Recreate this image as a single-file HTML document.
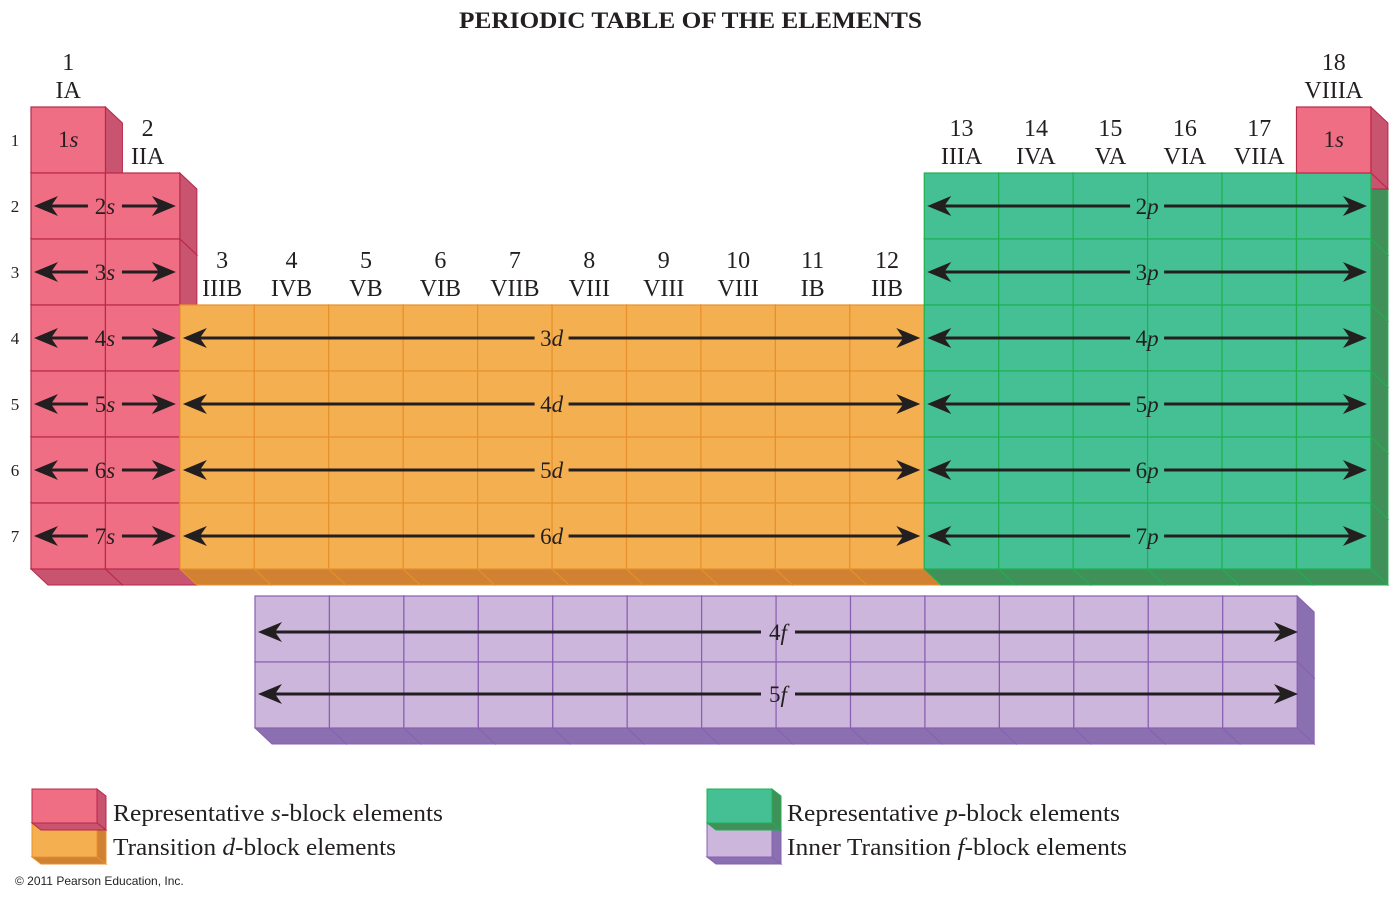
<!DOCTYPE html>
<html><head><meta charset="utf-8"><style>
body{margin:0;background:#fff;width:1400px;height:898px;overflow:hidden}
svg text{font-family:"Liberation Serif",serif;fill:#231f20}
</style></head><body>
<svg id="chart" width="1400" height="898" viewBox="0 0 1400 898" xmlns="http://www.w3.org/2000/svg">
<text x="459" y="28" textLength="463" lengthAdjust="spacingAndGlyphs" font-size="23" font-weight="bold">PERIODIC TABLE OF THE ELEMENTS</text>
<g id="sides"></g><g id="fronts"></g><g id="labels"></g>
<text x="15" y="885" font-size="12" style="font-family:'Liberation Sans',sans-serif">© 2011 Pearson Education, Inc.</text>
</svg>
<script>
const groupNums=["1","2","3","4","5","6","7","8","9","10","11","12","13","14","15","16","17","18"];
const groupRoman=["IA","IIA","IIIB","IVB","VB","VIB","VIIB","VIII","VIII","VIII","IB","IIB","IIIA","IVA","VA","VIA","VIIA","VIIIA"];
const groupLabelRow=[1,2,4,4,4,4,4,4,4,4,4,4,2,2,2,2,2,1];
const periods=[1,2,3,4,5,6,7];
// blocks: [block, colStart, colEnd, rowStart, rowEnd]
const blockCells=[["s",1,1,1,7],["s",2,2,2,7],["d",3,12,4,7],["p",13,18,2,7],["s",18,18,1,1]];
const arrowRows=[["s",2,"2"],["s",3,"3"],["s",4,"4"],["s",5,"5"],["s",6,"6"],["s",7,"7"],["d",4,"3"],["d",5,"4"],["d",6,"5"],["d",7,"6"],["p",2,"2"],["p",3,"3"],["p",4,"4"],["p",5,"5"],["p",6,"6"],["p",7,"7"]];
const fRows=["4","5"];
const C={s:{f:"#f06e84",sd:"#c85470",st:"#b8284a"},d:{f:"#f4b050",sd:"#d08232",st:"#e8902c"},p:{f:"#44c094",sd:"#3f9159",st:"#1fb050"},f:{f:"#cdb6dc",sd:"#8a70b0",st:"#8a5fb2"}};
const NS="http://www.w3.org/2000/svg";
const X0=31,CW=74.44,Y0=107,RH=66,DX=17,DY=16;
const colX=c=>X0+(c-1)*CW, rowY=r=>Y0+(r-1)*RH;
const sides=document.getElementById('sides'),fronts=document.getElementById('fronts'),labels=document.getElementById('labels');
function mk(tag,attrs,parent){const e=document.createElementNS(NS,tag);for(const k in attrs)e.setAttribute(k,attrs[k]);parent.appendChild(e);return e;}
function cell(x,y,w,h,c,name){
  let e=mk('polygon',{points:`${x+w},${y} ${x+w+DX},${y+DY} ${x+w+DX},${y+h+DY} ${x+w},${y+h}`,fill:c.sd,stroke:c.st,'stroke-width':1},sides);
  
  
  e=mk('polygon',{points:`${x},${y+h} ${x+w},${y+h} ${x+w+DX},${y+h+DY} ${x+DX},${y+h+DY}`,fill:c.sd,stroke:c.st,'stroke-width':1},sides);
  
  
  e=mk('rect',{x:x,y:y,width:w,height:h,fill:c.f,stroke:c.st,'stroke-width':1.2},fronts);
  
  
}
blockCells.forEach(b=>{for(let c=b[1];c<=b[2];c++)for(let r=b[3];r<=b[4];r++)cell(colX(c),rowY(r),CW,RH,C[b[0]],`${b[0]}-cell-g${c}-p${r}`);});
const FY=596;
fRows.forEach((n,i)=>{for(let k=0;k<14;k++)cell(255+k*CW,FY+i*RH,CW,RH,C.f,`f-cell-${n}f-${k+1}`);});
// group labels
groupNums.forEach((g,i)=>{const cx=colX(i+1)+CW/2+((i===1||i===2)?5:0),ty=rowY(groupLabelRow[i]);
  let t=mk('text',{x:cx,y:ty-37,'text-anchor':'middle','font-size':24},labels);t.textContent=g;
  
  t=mk('text',{x:cx,y:ty-9,'text-anchor':'middle','font-size':24},labels);t.textContent=groupRoman[i];
  });
periods.forEach(p=>{const t=mk('text',{x:15,y:rowY(p)+RH/2+6,'text-anchor':'middle','font-size':17},labels);t.textContent=p;
  });
function head(x,y,dir){const d=dir;return `M${x},${y} L${x-d*24},${y-10} L${x-d*17},${y} L${x-d*24},${y+10} Z`;}
function arrow(x1,x2,y,lbl,letter,name){
  const mid=(x1+x2)/2,gap=17;
  let e=mk('line',{x1:x1+15,y1:y,x2:mid-gap,y2:y,stroke:"#231f20",'stroke-width':3},labels);
  
  e=mk('line',{x1:mid+gap,y1:y,x2:x2-15,y2:y,stroke:"#231f20",'stroke-width':3},labels);
  
  e=mk('path',{d:head(x1,y,-1)+head(x2,y,1),fill:"#231f20"},labels);
  
  const t=mk('text',{x:mid,y:y+8,'text-anchor':'middle','font-size':23},labels);
  t.innerHTML=lbl+'<tspan font-style="italic">'+letter+'</tspan>';
  
}
const span={s:[1,2],d:[3,12],p:[13,18]};
arrowRows.forEach(a=>{const sp=span[a[0]];arrow(colX(sp[0])+3,colX(sp[1])+CW-4,rowY(a[1])+RH/2,a[2],a[0],`${a[2]}${a[0]}-orbital`);});
fRows.forEach((n,i)=>arrow(258,1298,FY+i*RH+(i?32:36),n,"f",`${n}f-orbital`));
// 1s labels
[[1,"1s-hydrogen"],[18,"1s-helium"]].forEach(([c,nm])=>{const t=mk('text',{x:colX(c)+CW/2,y:rowY(1)+RH/2+7,'text-anchor':'middle','font-size':23},labels);t.innerHTML='1<tspan font-style="italic">s</tspan>';
  });
// legend
function swatch(x,y,c,name){const w=65,h=34,dx=9,dy=7;
  let e=mk('polygon',{points:`${x+w},${y} ${x+w+dx},${y+dy} ${x+w+dx},${y+h+dy} ${x+w},${y+h}`,fill:c.sd,stroke:c.st},labels);
  
  e=mk('polygon',{points:`${x},${y+h} ${x+w},${y+h} ${x+w+dx},${y+h+dy} ${x+dx},${y+h+dy}`,fill:c.sd,stroke:c.st},labels);
  
  e=mk('rect',{x:x,y:y,width:w,height:h,fill:c.f,stroke:c.st},labels);
  }
function ltext(x,y,a,it,b,len,name){const t=mk('text',{x:x,y:y,'font-size':24,textLength:len,lengthAdjust:'spacingAndGlyphs'},labels);t.innerHTML=a+'<tspan font-style="italic">'+it+'</tspan>'+b;
  }
swatch(32,823,C.d,'legend-d-swatch');swatch(32,789,C.s,'legend-s-swatch');
swatch(707,823,C.f,'legend-f-swatch');swatch(707,789,C.p,'legend-p-swatch');
ltext(113,821,"Representative ","s","-block elements",330,'legend-s-text');
ltext(113,855,"Transition ","d","-block elements",283,'legend-d-text');
ltext(787,821,"Representative ","p","-block elements",333,'legend-p-text');
ltext(787,855,"Inner Transition ","f","-block elements",340,'legend-f-text');
</script>
</body></html>
